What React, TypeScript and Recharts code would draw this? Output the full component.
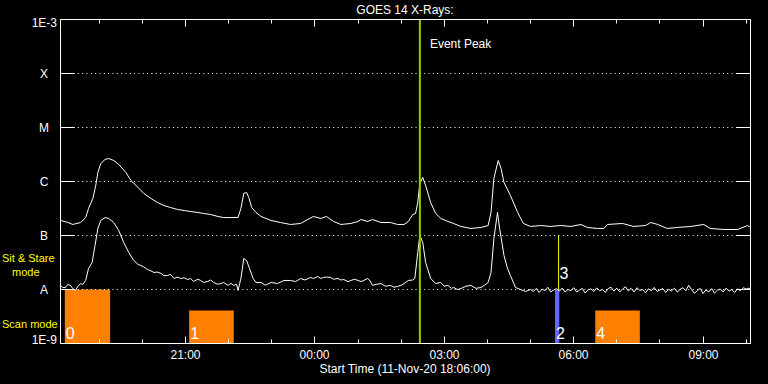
import React from 'react';
import { ComposedChart, Line, XAxis, YAxis, ReferenceLine, ReferenceArea } from 'recharts';

// minutes after start (11-Nov-20 18:06:00)
const longTimes = [
  0, 10, 17, 28, 35, 39, 45, 49, 52, 56, 62, 67, 74, 81, 91, 98, 108, 116, 126, 135, 144, 153, 163, 172, 181,
  191, 199, 209, 219, 227, 237, 247, 251, 255, 259, 262, 266, 272, 279, 293, 306, 320, 334, 344, 352, 362, 370,
  380, 390, 404, 414, 418, 427, 434, 446, 459, 469, 478, 484, 490, 494, 497, 500, 504, 508, 515, 522, 529, 539,
  547, 557, 571, 585, 595, 599, 603, 609, 613, 617, 626, 636, 644, 654, 668, 682, 696, 710, 724, 733, 747, 756,
  761, 782, 797, 814, 821, 831, 844, 858, 877, 895, 904, 923, 942, 956, 960,
];
// 1-8 A flux, W/m^2
const longFlux = [
  1.9e-7, 1.75e-7, 1.6e-7, 1.74e-7, 2.15e-7, 3.16e-7, 4.84e-7, 8.43e-7, 1.47e-6, 2.15e-6, 2.56e-6, 2.67e-6, 2.45e-6,
  2.07e-6, 1.47e-6, 1.04e-6, 7.74e-7, 5.99e-7, 4.84e-7, 4.08e-7, 3.59e-7, 3.3e-7, 3.03e-7, 2.9e-7, 2.78e-7,
  2.67e-7, 2.56e-7, 2.45e-7, 2.25e-7, 2.15e-7, 2.15e-7, 2.15e-7, 3.16e-7, 5.99e-7, 6.25e-7, 5.05e-7, 3.3e-7,
  2.67e-7, 2.25e-7, 1.9e-7, 1.74e-7, 1.6e-7, 1.67e-7, 1.98e-7, 2.25e-7, 2.07e-7, 2.25e-7, 1.82e-7, 1.6e-7,
  1.67e-7, 1.82e-7, 1.98e-7, 1.82e-7, 1.98e-7, 1.74e-7, 1.74e-7, 1.6e-7, 1.6e-7, 1.82e-7, 2.45e-7, 2.56e-7,
  4.08e-7, 9.18e-7, 1.19e-6, 8.43e-7, 4.08e-7, 2.56e-7, 2.07e-7, 1.82e-7, 1.67e-7, 1.47e-7, 1.35e-7, 1.41e-7,
  1.53e-7, 2.67e-7, 1.14e-6, 2.45e-6, 1.74e-6, 9.58e-7, 5.5e-7, 2.67e-7, 1.67e-7, 1.47e-7, 1.53e-7, 1.47e-7,
  1.53e-7, 1.47e-7, 1.6e-7, 1.41e-7, 1.35e-7, 1.35e-7, 1.6e-7, 1.67e-7, 1.47e-7, 1.53e-7, 1.74e-7, 1.6e-7,
  1.35e-7, 1.41e-7, 1.47e-7, 1.6e-7, 1.35e-7, 1.29e-7, 1.29e-7, 1.53e-7, 1.41e-7,
];

const shortTimes = [
  0, 3, 7, 10, 14, 17, 21, 24, 28, 31, 35, 39, 44, 48, 52, 56, 62, 67, 74, 81, 88, 95, 102, 108, 112, 116, 121,
  126, 130, 135, 140, 144, 149, 153, 158, 163, 167, 172, 177, 181, 185, 191, 195, 199, 205, 209, 213, 219, 223,
  227, 233, 237, 241, 245, 247, 251, 255, 259, 263, 268, 272, 279, 285, 293, 302, 311, 320, 327, 334, 340, 348,
  352, 358, 362, 366, 370, 376, 380, 386, 390, 394, 400, 404, 409, 414, 418, 422, 427, 430, 434, 440, 446, 452,
  459, 464, 469, 474, 478, 484, 490, 493, 497, 500, 504, 508, 515, 522, 529, 534, 539, 544, 547, 552, 557, 564,
  571, 578, 585, 590, 595, 599, 603, 608, 611, 617, 622, 626, 633, 640, 647, 654, 658, 662, 666, 670, 674, 678,
  682, 686, 690, 694, 698, 702, 706, 710, 714, 718, 722, 726, 730, 734, 738, 742, 746, 750, 754, 758, 762, 766,
  770, 774, 778, 782, 786, 790, 794, 798, 802, 806, 810, 814, 818, 822, 826, 830, 834, 838, 842, 846, 850, 854,
  858, 862, 866, 870, 874, 878, 882, 886, 890, 894, 898, 902, 906, 910, 914, 918, 922, 926, 930, 934, 938, 942,
  946, 950, 954, 958, 960,
];
// 0.5-4 A flux, W/m^2
const shortFlux = [
  1.19e-8, 1.09e-8, 1.09e-8, 1.24e-8, 1.19e-8, 1.04e-8, 0.96e-8, 1.14e-8, 1.29e-8, 1.24e-8, 1.47e-8, 2.45e-8,
  3.16e-8, 6.53e-8, 1.35e-7, 1.9e-7, 2.15e-7, 2.07e-7, 1.74e-7, 1.24e-7, 7.42e-8, 4.84e-8, 3.44e-8, 2.9e-8,
  2.78e-8, 2.6e-8, 2.35e-8, 2.2e-8, 2.07e-8, 2.1e-8, 1.98e-8, 1.8e-8, 1.82e-8, 1.9e-8, 1.6e-8, 1.7e-8, 1.6e-8,
  1.65e-8, 1.53e-8, 1.6e-8, 1.41e-8, 1.55e-8, 1.47e-8, 1.35e-8, 1.41e-8, 1.5e-8, 1.35e-8, 1.25e-8, 1.29e-8,
  1.35e-8, 1.19e-8, 1.3e-8, 1.19e-8, 1.25e-8, 0.96e-8, 1.6e-8, 3.75e-8, 3.44e-8, 2.45e-8, 1.6e-8, 1.35e-8,
  1.35e-8, 1.2e-8, 1.35e-8, 1.29e-8, 1.47e-8, 1.47e-8, 1.4e-8, 1.6e-8, 1.5e-8, 1.67e-8, 1.6e-8, 1.74e-8, 1.6e-8,
  1.67e-8, 1.7e-8, 1.67e-8, 1.55e-8, 1.6e-8, 1.5e-8, 1.53e-8, 1.4e-8, 1.47e-8, 1.55e-8, 1.47e-8, 1.4e-8,
  1.47e-8, 1.6e-8, 1.5e-8, 1.19e-8, 1.25e-8, 1.29e-8, 1.15e-8, 1.19e-8, 1.1e-8, 1.14e-8, 1.2e-8, 1.29e-8,
  1.47e-8, 1.5e-8, 1.6e-8, 4.84e-8, 1.0e-7, 7.42e-8, 3.16e-8, 1.6e-8, 1.29e-8, 1.35e-8, 1.15e-8, 1.19e-8,
  1.05e-8, 1.09e-8, 1.0e-8, 1.04e-8, 1.15e-8, 1.19e-8, 1.05e-8, 1.09e-8, 1.2e-8, 1.35e-8, 2.07e-8, 8.79e-8,
  2.67e-7, 1.35e-7, 4.26e-8, 2.45e-8, 1.82e-8, 1.09e-8, 1.0e-8, 0.92e-8, 1.0e-8, 0.92e-8, 1.05e-8, 0.88e-8,
  1.02e-8, 0.95e-8, 1.1e-8, 0.9e-8, 0.98e-8, 1.04e-8, 0.93e-8, 1.06e-8, 0.9e-8, 1.0e-8, 0.95e-8, 1.08e-8,
  0.9e-8, 0.97e-8, 1.05e-8, 0.86e-8, 0.98e-8, 1.03e-8, 0.92e-8, 1.07e-8, 0.95e-8, 1.0e-8, 0.88e-8, 1.04e-8,
  1.1e-8, 0.93e-8, 1.06e-8, 0.9e-8, 1.02e-8, 1.12e-8, 0.94e-8, 1.05e-8, 0.9e-8, 1.08e-8, 0.96e-8, 1.0e-8,
  0.87e-8, 1.03e-8, 0.95e-8, 1.09e-8, 0.92e-8, 0.98e-8, 1.04e-8, 0.88e-8, 1.01e-8, 0.94e-8, 1.06e-8, 0.9e-8,
  1.0e-8, 1.08e-8, 0.95e-8, 1.2e-8, 1.0e-8, 0.85e-8, 0.95e-8, 1.05e-8, 0.84e-8, 0.98e-8, 0.9e-8, 1.04e-8,
  0.86e-8, 0.97e-8, 1.02e-8, 0.9e-8, 1.06e-8, 0.93e-8, 1.0e-8, 0.88e-8, 1.03e-8, 0.95e-8, 1.08e-8, 1.02e-8,
  1.06e-8, 0.97e-8,
];

const hourTicks = [54, 114, 174, 234, 294, 354, 414, 474, 534, 594, 654, 714, 774, 834, 894, 954];
const majorTicks = [174, 354, 534, 714, 894];
const majorLabels = ['21:00', '00:00', '03:00', '06:00', '09:00'];

const levelTicks = [1e-9, 1e-8, 1e-7, 1e-6, 1e-5, 1e-4, 1e-3];
const levelLabels = ['1E-9', 'A', 'B', 'C', 'M', 'X', '1E-3'];
const gridLevels = [1e-8, 1e-7, 1e-6, 1e-5, 1e-4];

// instrument mode blocks
const blockNames = ['0', '1', '2', '4'];
const blockStart = [6, 179, 688, 744];
const blockEnd = [69, 241, 694, 806];
const blockTop = [1e-8, 4.1e-9, 1e-8, 4.1e-9];
const blockKind = ['scan', 'scan', 'stare', 'scan'];

const eventPeak = 500;
const modeSwitch = { t: 693, from: 1e-8, to: 1e-7, name: '3' };

const longData = longTimes.map((t, i) => ({ t, flux: longFlux[i] }));
const shortData = shortTimes.map((t, i) => ({ t, flux: shortFlux[i] }));

const FONT = 'Liberation Sans, Arial, sans-serif';
const snap = (v: number) => Math.round(v - 0.5) + 0.5;

const BottomTick = (p: any) => {
  const x = snap(p.x);
  const i = majorTicks.indexOf(p.payload.value);
  return (
    <g>
      <line x1={x} x2={x} y1={p.y} y2={p.y - (i >= 0 ? 7 : 4)} stroke="#fff" />
      {i >= 0 && (
        <text x={x} y={p.y + 15.5} textAnchor="middle" fill="#fff" fontSize={12} fontFamily={FONT}>
          {majorLabels[i]}
        </text>
      )}
    </g>
  );
};

const TopTick = (p: any) => {
  const x = snap(p.x);
  const major = majorTicks.includes(p.payload.value);
  return <line x1={x} x2={x} y1={p.y} y2={p.y + (major ? 7 : 4)} stroke="#fff" />;
};

const LeftTick = (p: any) => {
  const y = snap(p.y);
  const i = levelTicks.indexOf(p.payload.value);
  const label = levelLabels[i];
  let text;
  if (i === levelTicks.length - 1) {
    text = <text x={57} y={y + 7.5} textAnchor="end" fill="#fff" fontSize={12} fontFamily={FONT}>{label}</text>;
  } else if (i === 0) {
    text = <text x={57} y={y} textAnchor="end" fill="#fff" fontSize={12} fontFamily={FONT}>{label}</text>;
  } else {
    text = <text x={44} y={y + 4.5} textAnchor="middle" fill="#fff" fontSize={12} fontFamily={FONT}>{label}</text>;
  }
  return (
    <g>
      <line x1={p.x} x2={p.x + 14} y1={y} y2={y} stroke="#fff" />
      {text}
    </g>
  );
};

const RightTick = (p: any) => {
  const y = snap(p.y);
  return <line x1={p.x - 14} x2={p.x} y1={y} y2={y} stroke="#fff" />;
};

const BlockLabel = (p: any) => {
  const vb = p.viewBox;
  return (
    <text x={vb.x + 1} y={vb.y + vb.height - 5} fill="#fff" fontSize={16} fontFamily={FONT}>
      {p.digit}
    </text>
  );
};

const SwitchLabel = (p: any) => {
  const vb = p.viewBox;
  return (
    <text x={vb.x + 1} y={vb.y + vb.height - 11} fill="#fff" fontSize={16} fontFamily={FONT}>
      {p.digit}
    </text>
  );
};

const PeakLabel = (p: any) => {
  const vb = p.viewBox;
  return (
    <text x={vb.x + 10} y={vb.y + 28} fill="#fff" fontSize={12} fontFamily={FONT}>
      Event Peak
    </text>
  );
};

export default function App() {
  return (
    <div style={{ position: 'relative', width: 768, height: 384, background: '#000' }}>
      <style>{'body{margin:0;background:#000}'}</style>
      <ComposedChart width={768} height={384} margin={{ top: 0, right: 0, bottom: 0, left: 0 }}>
        <XAxis
          xAxisId="bottom"
          type="number"
          dataKey="t"
          domain={[0, 960]}
          ticks={hourTicks}
          interval={0}
          allowDataOverflow
          height={40.5}
          tickSize={0}
          tickMargin={0}
          tickLine={false}
          axisLine={{ stroke: '#fff' }}
          tick={(p: any) => <BottomTick {...p} />}
        />
        <XAxis
          xAxisId="top"
          orientation="top"
          type="number"
          dataKey="t"
          domain={[0, 960]}
          ticks={hourTicks}
          interval={0}
          allowDataOverflow
          height={19.5}
          tickSize={0}
          tickMargin={0}
          tickLine={false}
          axisLine={{ stroke: '#fff' }}
          tick={(p: any) => <TopTick {...p} />}
        />
        <YAxis
          yAxisId="left"
          type="number"
          scale="log"
          domain={[1e-9, 1e-3]}
          ticks={levelTicks}
          interval={0}
          allowDataOverflow
          width={60.5}
          tickSize={0}
          tickMargin={0}
          tickLine={false}
          axisLine={{ stroke: '#fff' }}
          tick={(p: any) => <LeftTick {...p} />}
        />
        <YAxis
          yAxisId="right"
          orientation="right"
          type="number"
          scale="log"
          domain={[1e-9, 1e-3]}
          ticks={levelTicks}
          interval={0}
          allowDataOverflow
          width={17.5}
          tickSize={0}
          tickMargin={0}
          tickLine={false}
          axisLine={{ stroke: '#fff' }}
          tick={(p: any) => <RightTick {...p} />}
        />

        {gridLevels.map((v) => (
          <ReferenceLine key={v} xAxisId="bottom" yAxisId="left" y={v} stroke="#fff" strokeDasharray="1 3.33" />
        ))}

        {blockNames.map((name, i) => (
          <ReferenceArea
            key={name}
            xAxisId="bottom"
            yAxisId="left"
            x1={blockStart[i]}
            x2={blockEnd[i]}
            y1={1e-9}
            y2={blockTop[i]}
            fill={blockKind[i] === 'scan' ? '#ff8000' : '#6464ff'}
            fillOpacity={1}
            stroke="none"
            label={<BlockLabel digit={name} />}
          />
        ))}

        <Line
          xAxisId="bottom"
          yAxisId="left"
          data={longData}
          dataKey="flux"
          type="linear"
          stroke="#fff"
          strokeWidth={1}
          dot={false}
          isAnimationActive={false}
        />
        <Line
          xAxisId="bottom"
          yAxisId="left"
          data={shortData}
          dataKey="flux"
          type="linear"
          stroke="#fff"
          strokeWidth={1}
          dot={false}
          isAnimationActive={false}
        />

        <ReferenceLine
          xAxisId="bottom"
          yAxisId="left"
          segment={[
            { x: modeSwitch.t, y: modeSwitch.from },
            { x: modeSwitch.t, y: modeSwitch.to },
          ]}
          stroke="#ffff00"
          label={<SwitchLabel digit={modeSwitch.name} />}
        />
        <ReferenceLine
          xAxisId="bottom"
          yAxisId="left"
          x={eventPeak}
          stroke="#99cc00"
          strokeWidth={2}
          label={<PeakLabel />}
        />
      </ComposedChart>
      <svg
        width={768}
        height={384}
        style={{ position: 'absolute', left: 0, top: 0, pointerEvents: 'none' }}
        fontFamily={FONT}
        fontSize={12}
      >
        <text x={405} y={14} textAnchor="middle" fill="#fff">GOES 14 X-Rays:</text>
        <text x={405} y={373} textAnchor="middle" fill="#fff">Start Time (11-Nov-20 18:06:00)</text>
        <text x={2} y={262} fill="#ffff00" fontSize={11}>Sit &amp; Stare</text>
        <text x={12} y={275.5} fill="#ffff00" fontSize={11}>mode</text>
        <text x={2} y={328} fill="#ffff00" fontSize={11}>Scan mode</text>
      </svg>
    </div>
  );
}
